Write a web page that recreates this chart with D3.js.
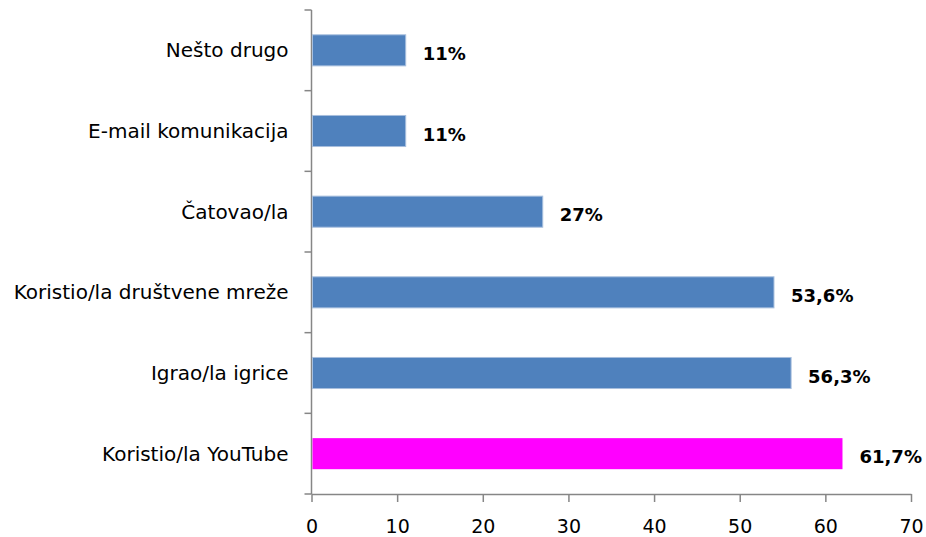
<!DOCTYPE html>
<html>
<head>
<meta charset="utf-8">
<script src="https://cdn.jsdelivr.net/npm/d3@7"></script>
<style>
  body { margin: 0; background: #fff; }
  svg { display: block; }
  .axis path, .axis line { stroke: #868686; stroke-width: 1.5; }
  .axis text { font-family: 'DejaVu Sans', sans-serif; fill: #000; }
</style>
</head>
<body>
<svg width="926" height="537"></svg>
<script>
// categories from top to bottom
const categories = ['Nešto drugo', 'E-mail komunikacija', 'Čatovao/la', 'Koristio/la društvene mreže', 'Igrao/la igrice', 'Koristio/la YouTube']
// bar lengths as drawn in the picture
const values = [11, 11, 27, 54, 56, 62]
// printed data labels
const valueLabels = ['11%', '11%', '27%', '53,6%', '56,3%', '61,7%']
const xTicks = [0, 10, 20, 30, 40, 50, 60, 70]

const margin = {top: 10, right: 15, bottom: 43, left: 311.5}
const svg = d3.select('svg')
const width = +svg.attr('width') - margin.left - margin.right
const height = +svg.attr('height') - margin.top - margin.bottom
const g = svg.append('g')
  .attr('transform', 'translate(' + margin.left + ',' + margin.top + ')')

const x = d3.scaleLinear().domain([0, 70]).range([0, width])
const y = d3.scaleBand().domain(categories).range([0, height]).paddingInner(0.615).paddingOuter(0.3075)
const color = c => c === 'Koristio/la YouTube' ? '#ff00ff' : '#4f81bd'

// y axis with ticks between categories
const yAxis = g.append('g').attr('class', 'axis')
yAxis.append('line').attr('x1', 0).attr('x2', 0).attr('y1', 0).attr('y2', height)
yAxis.selectAll('.tick')
  .data(d3.range(categories.length + 1))
  .enter()
  .append('line')
  .attr('x1', -7).attr('x2', 0)
  .attr('y1', i => i * height / categories.length)
  .attr('y2', i => i * height / categories.length)

g.selectAll('.cat')
  .data(categories)
  .enter()
  .append('text')
  .attr('class', 'cat')
  .attr('x', -23)
  .attr('y', d => y(d) + y.bandwidth() / 2)
  .attr('dy', '0.35em')
  .attr('text-anchor', 'end')
  .style('font-family', d => d === 'Čatovao/la' ? "'Comic Sans MS', 'DejaVu Sans', sans-serif" : "'DejaVu Sans', sans-serif")
  .style('font-size', '20px')
  .text(d => d)

// x axis
g.append('g')
  .attr('class', 'axis')
  .attr('transform', 'translate(0,' + height + ')')
  .call(d3.axisBottom(x).tickValues(xTicks).tickSize(8).tickPadding(18).tickSizeOuter(0))
  .selectAll('text')
  .style('font-size', '19px')

const data = categories.map((c, i) => ({c, v: values[i], label: valueLabels[i]}))

g.selectAll('.bar')
  .data(data)
  .enter()
  .append('rect')
  .attr('class', 'bar')
  .attr('x', x(0) + 1)
  .attr('y', d => y(d.c))
  .attr('width', d => x(d.v) - x(0) - 1)
  .attr('height', y.bandwidth())
  .attr('fill', d => color(d.c))
  .attr('stroke', d => d.c === 'Koristio/la YouTube' ? 'none' : '#a7bfde')
  .attr('stroke-width', 1)

g.selectAll('.val')
  .data(data)
  .enter()
  .append('text')
  .attr('class', 'val')
  .attr('x', d => x(d.v) + 17)
  .attr('y', d => y(d.c) + y.bandwidth() / 2)
  .attr('dy', '0.53em')
  .style('font-family', "'DejaVu Sans', sans-serif")
  .style('font-weight', 'bold')
  .style('font-size', '18px')
  .text(d => d.label)
</script>
</body>
</html>
